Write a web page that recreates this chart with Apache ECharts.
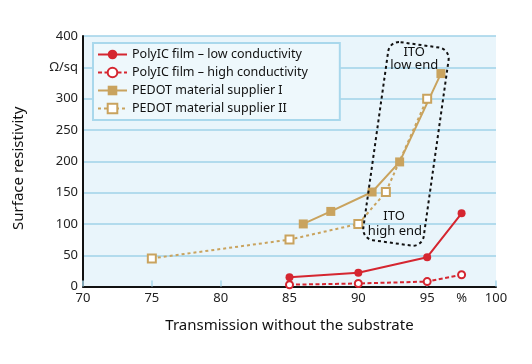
<!DOCTYPE html>
<html>
<head>
<meta charset="utf-8">
<script src="https://cdn.jsdelivr.net/npm/echarts@6/dist/echarts.min.js"></script>
<style>
html,body{margin:0;padding:0;background:#fff;}
#c{width:532px;height:364px;}
</style>
</head>
<body>
<div id="c"></div>
<script>
// ---- data ----
var seriesNames = ['PolyIC film – low conductivity', 'PolyIC film – high conductivity', 'PEDOT material supplier I', 'PEDOT material supplier II'];
var polyLowX = [85, 90, 95, 97.5];
var polyLowY = [15, 22, 47, 117];
var polyHighX = [85, 90, 95, 97.5];
var polyHighY = [3, 5, 8, 19];
var pedot1X = [86, 88, 91, 93, 96];
var pedot1Y = [100, 120, 151, 199, 340];
var pedot2X = [75, 85, 90, 92, 95];
var pedot2Y = [45, 75, 100, 151, 300];
var yTickLabels = {350: 'Ω/sq'};
var xUnitLabel = '%';
var xUnitPos = 97.5;
var itoLow = ['ITO', 'low end'];
var itoHigh = ['ITO', 'high end'];

function pairs(xs, ys){ return xs.map(function(x,i){ return [x, ys[i]]; }); }

var RED = '#d52630', TAN = '#c9a35e';
var FONT = 'Noto Sans';
var chart = echarts.init(document.getElementById('c'), null, {renderer:'canvas'});
var option = {
  animation:false,
  textStyle:{fontFamily:FONT},
  grid:{left:83, right:36, top:36, bottom:77.4, show:true, backgroundColor:'#e9f5fb', borderWidth:0},
  legend:{
    orient:'vertical', left:93, top:43,
    padding:[5,32,5,4], itemGap:5, itemWidth:29, itemHeight:12,
    backgroundColor:'#eef8fc', borderColor:'#a9d8ec', borderWidth:2,
    textStyle:{fontFamily:FONT, fontSize:12.5, color:'#111'},
    data:seriesNames
  },
  xAxis:{
    type:'value', min:70, max:100, interval:5,
    axisLine:{lineStyle:{color:'#111', width:2}},
    axisTick:{inside:true, length:6, lineStyle:{color:'#a9d8ec', width:1.5}},
    splitLine:{show:false},
    axisLabel:{fontSize:13, color:'#222', margin:5, fontFamily:FONT},
    name:'Transmission without the substrate', nameLocation:'middle', nameGap:32,
    nameTextStyle:{fontSize:15, color:'#111', fontFamily:FONT}
  },
  yAxis:{
    type:'value', min:0, max:400, interval:50,
    axisLine:{show:true, lineStyle:{color:'#111', width:2}},
    axisTick:{show:false},
    splitLine:{lineStyle:{color:'#9fd2e8', width:1.5}},
    axisLabel:{fontSize:13, color:'#222', margin:5, fontFamily:FONT,
      formatter:function(v){ return yTickLabels[v] !== undefined ? yTickLabels[v] : v; }},
    name:'Surface resistivity', nameLocation:'middle', nameGap:57,
    nameTextStyle:{fontSize:15, color:'#111', fontFamily:FONT, padding:[0,14,0,0]}
  },
  series:[
    {name:seriesNames[0], type:'line', data:pairs(polyLowX, polyLowY), symbol:'circle', symbolSize:8,
     itemStyle:{color:RED}, lineStyle:{color:RED, width:2}},
    {name:seriesNames[1], type:'line', data:pairs(polyHighX, polyHighY), symbol:'emptyCircle', symbolSize:7,
     itemStyle:{color:RED, borderWidth:1.3}, lineStyle:{color:RED, width:2, type:[4,2.5]}},
    {name:seriesNames[2], type:'line', data:pairs(pedot1X, pedot1Y), symbol:'rect', symbolSize:9,
     itemStyle:{color:TAN}, lineStyle:{color:TAN, width:2}},
    {name:seriesNames[3], type:'line', data:pairs(pedot2X, pedot2Y), symbol:'emptyRect', symbolSize:8,
     itemStyle:{color:TAN, borderWidth:1.3}, lineStyle:{color:TAN, width:2, type:[3,3]}}
  ]
};
chart.setOption(option);

function px(x, y){ return chart.convertToPixel({gridIndex:0}, [x, y]); }
var boxC = px(93.46, 227.8);
var pLow1 = px(94.06, 373.6), pLow2 = px(94.06, 354);
var pHigh1 = px(92.6, 111.7), pHigh2 = px(92.66, 87.7);
var pUnit = px(xUnitPos, 0);
var txt = {fontFamily:FONT, fontSize:13, fill:'#111', align:'center', verticalAlign:'middle'};
function t(p, s){ return {type:'text', x:p[0], y:p[1], z:100, style:Object.assign({text:s}, txt)}; }
chart.setOption({graphic:[
  {type:'rect', x:boxC[0], y:boxC[1], rotation:-0.14, z:100,
   shape:{x:-30.5, y:-100, width:61, height:200, r:11},
   style:{fill:null, stroke:'#111', lineWidth:2, lineDash:[3,3]}},
  t(pLow1, itoLow[0]), t(pLow2, itoLow[1]), t(pHigh1, itoHigh[0]), t(pHigh2, itoHigh[1]),
  {type:'text', x:pUnit[0], y:pUnit[1]+12, z:100,
   style:Object.assign({text:xUnitLabel}, txt, {fill:'#222'})}
]});
</script>
</body>
</html>
